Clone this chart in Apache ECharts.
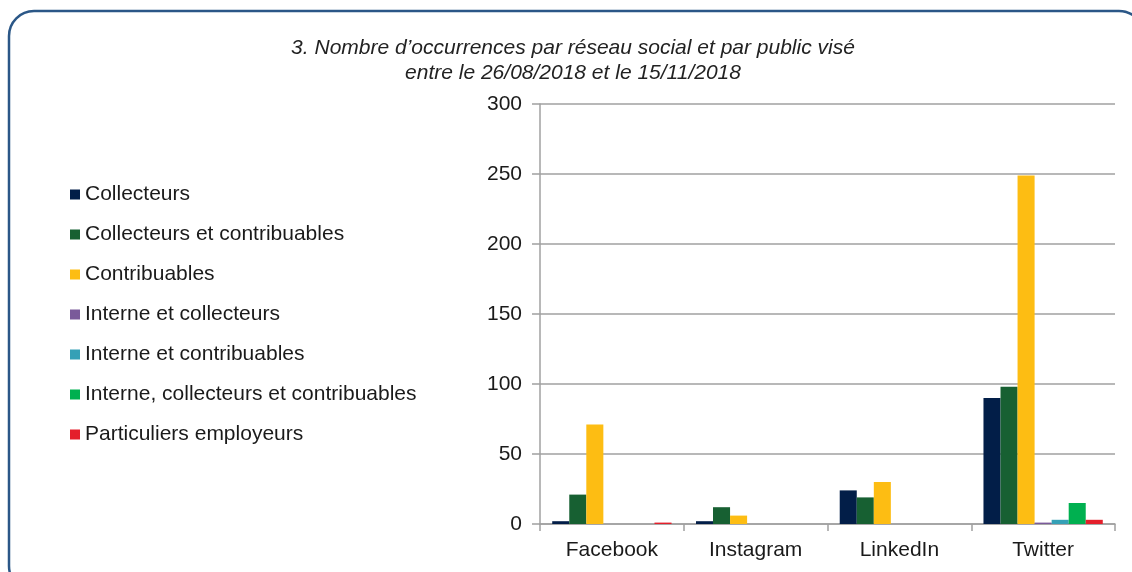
<!DOCTYPE html>
<html>
<head>
<meta charset="utf-8">
<script src="https://cdn.jsdelivr.net/npm/echarts@6/dist/echarts.min.js"></script>
<style>
html,body{margin:0;padding:0;background:#fff;}
#c{width:1132px;height:572px;}
</style>
</head>
<body>
<div id="c"></div>
<script>
const categories = ['Facebook', 'Instagram', 'LinkedIn', 'Twitter'];
const seriesNames = [
  'Collecteurs',
  'Collecteurs et contribuables',
  'Contribuables',
  'Interne et collecteurs',
  'Interne et contribuables',
  'Interne, collecteurs et contribuables',
  'Particuliers employeurs'
];
const collecteurs = [2, 2, 24, 90];
const collecteursEtContribuables = [21, 12, 19, 98];
const contribuables = [71, 6, 30, 249];
const interneEtCollecteurs = [0, 0, 0, 1];
const interneEtContribuables = [0, 0, 0, 3];
const interneCollecteursContribuables = [0, 0, 0, 15];
const particuliersEmployeurs = [1, 0, 0, 3];
const yTicks = [0, 50, 100, 150, 200, 250, 300];

const values = [collecteurs, collecteursEtContribuables, contribuables, interneEtCollecteurs,
  interneEtContribuables, interneCollecteursContribuables, particuliersEmployeurs];
const colors = ['#021e48', '#176032', '#fdbd13', '#7a5a9a', '#35a0b6', '#00b050', '#e41f2b'];

const font = 'Liberation Sans, Arial, sans-serif';
const chart = echarts.init(document.getElementById('c'));
chart.setOption({
  animation: false,
  textStyle: { fontFamily: font },
  title: {
    text: '3. Nombre d\u2019occurrences par réseau social et par public visé\nentre le 26/08/2018 et le 15/11/2018',
    left: 568, top: 31, textAlign: 'center',
    textStyle: { fontSize: 21, fontStyle: 'italic', fontWeight: 'normal', color: '#222', lineHeight: 25, fontFamily: font }
  },
  graphic: [{
    type: 'rect', silent: true, z: -1,
    shape: { x: 9, y: 11, width: 1135, height: 580, r: 25 },
    style: { fill: 'none', stroke: '#2b5787', lineWidth: 2.5 }
  }],
  legend: {
    orient: 'vertical', left: 65, top: 179,
    icon: 'rect', itemWidth: 10, itemHeight: 10, itemGap: 19,
    textStyle: { fontSize: 21, color: '#1a1a1a', lineHeight: 21, fontFamily: font },
    data: seriesNames
  },
  grid: { left: 540, right: 17, top: 104, bottom: 48, containLabel: false },
  xAxis: {
    type: 'category', data: categories,
    axisLine: { lineStyle: { color: '#a0a0a0', width: 1.5 } },
    axisTick: { show: true, length: 7, lineStyle: { color: '#a0a0a0', width: 1.5 } },
    axisLabel: { fontSize: 21, color: '#1a1a1a', margin: 16, fontFamily: font }
  },
  yAxis: {
    type: 'value', min: 0, max: 300, interval: 50,
    axisLine: { show: true, lineStyle: { color: '#a0a0a0', width: 1.5 } },
    axisTick: { show: true, length: 8, lineStyle: { color: '#a0a0a0', width: 1.5 } },
    axisLabel: { fontSize: 21, color: '#1a1a1a', margin: 18, fontFamily: font,
      formatter: v => yTicks.includes(v) ? String(v) : '' },
    splitLine: { lineStyle: { color: '#a0a0a0', width: 1.5 } }
  },
  series: seriesNames.map((name, i) => ({
    name, type: 'bar', data: values[i],
    barGap: '0%', barCategoryGap: '17%',
    itemStyle: { color: colors[i] }
  }))
});
</script>
</body>
</html>
